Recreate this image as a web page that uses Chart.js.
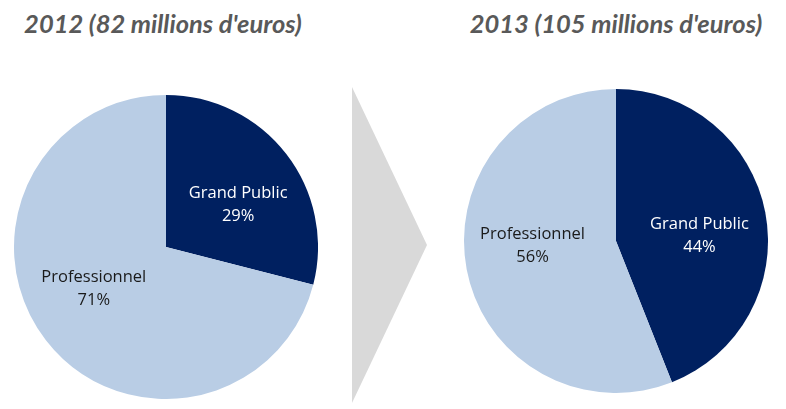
<!DOCTYPE html>
<html>
<head>
<meta charset="utf-8">
<script src="https://cdn.jsdelivr.net/npm/chart.js@4/dist/chart.umd.min.js"></script>
<style>
  html, body { margin: 0; padding: 0; background: #fff; }
  #stage { position: relative; width: 786px; height: 409px; overflow: hidden; }
  .title {
    position: absolute; top: 6px; width: 360px; text-align: center;
    font-family: Lato, sans-serif; font-style: italic; font-weight: 700;
    font-size: 25.5px; line-height: 34px; color: #595959; white-space: nowrap;
  }
  .pie { position: absolute; width: 304px; height: 304px; }
  #arrow {
    position: absolute; left: 352px; top: 87px; width: 75px; height: 316px;
    background: #d9d9d9; clip-path: polygon(0 0, 100% 50%, 0 100%);
  }
</style>
</head>
<body>
<div id="stage">
  <div class="title" id="t0" style="left: -17px;"></div>
  <div class="title" id="t1" style="left: 436px;"></div>
  <div id="arrow"></div>
  <div class="pie" style="left: 14px; top: 95px;"><canvas id="c0" width="304" height="304"></canvas></div>
  <div class="pie" style="left: 464px; top: 89px;"><canvas id="c1" width="304" height="304"></canvas></div>
</div>
<script>
  // data
  const years = ['2012', '2013']
  const totals = [82, 105]            // millions d'euros
  const categories = ['Grand Public', 'Professionnel']
  const share2012 = [29, 71]
  const share2013 = [44, 56]

  const sliceColors = ['#002060', '#b9cde5']
  const labelColors = ['#ffffff', '#1a1a1a']

  // draws "Name\nxx%" inside each slice (a bit past the mid angle, like excel does)
  const sliceLabels = {
    id: 'sliceLabels',
    afterDatasetsDraw(chart) {
      const ctx = chart.ctx
      const meta = chart.getDatasetMeta(0)
      const values = chart.data.datasets[0].data
      ctx.save()
      ctx.font = '16.5px "Open Sans", sans-serif'
      ctx.textAlign = 'center'
      ctx.textBaseline = 'middle'
      meta.data.forEach(function (arc, i) {
        const p = arc.getProps(['x', 'y', 'startAngle', 'endAngle', 'outerRadius'], true)
        const mid = (p.startAngle + p.endAngle) / 2 + 7.5 * Math.PI / 180
        const r = p.outerRadius * 0.55
        const x = p.x + Math.cos(mid) * r
        const y = p.y + Math.sin(mid) * r
        ctx.fillStyle = labelColors[i]
        ctx.fillText(chart.data.labels[i], x, y - 11.5)
        ctx.fillText(values[i] + '%', x, y + 11.5)
      })
      ctx.restore()
    }
  }

  function makePie(id, values) {
    return new Chart(document.getElementById(id), {
      type: 'pie',
      data: {
        labels: categories,
        datasets: [{
          data: values,
          backgroundColor: sliceColors,
          borderWidth: 0
        }]
      },
      options: {
        responsive: false,
        animation: false,
        layout: { padding: 0 },
        plugins: {
          legend: { display: false },
          tooltip: { enabled: false },
          title: { display: false }
        }
      },
      plugins: [sliceLabels]
    })
  }

  years.forEach(function (y, i) {
    document.getElementById('t' + i).textContent = y + ' (' + totals[i] + " millions d'euros)"
  })

  makePie('c0', share2012)
  makePie('c1', share2013)
</script>
</body>
</html>
